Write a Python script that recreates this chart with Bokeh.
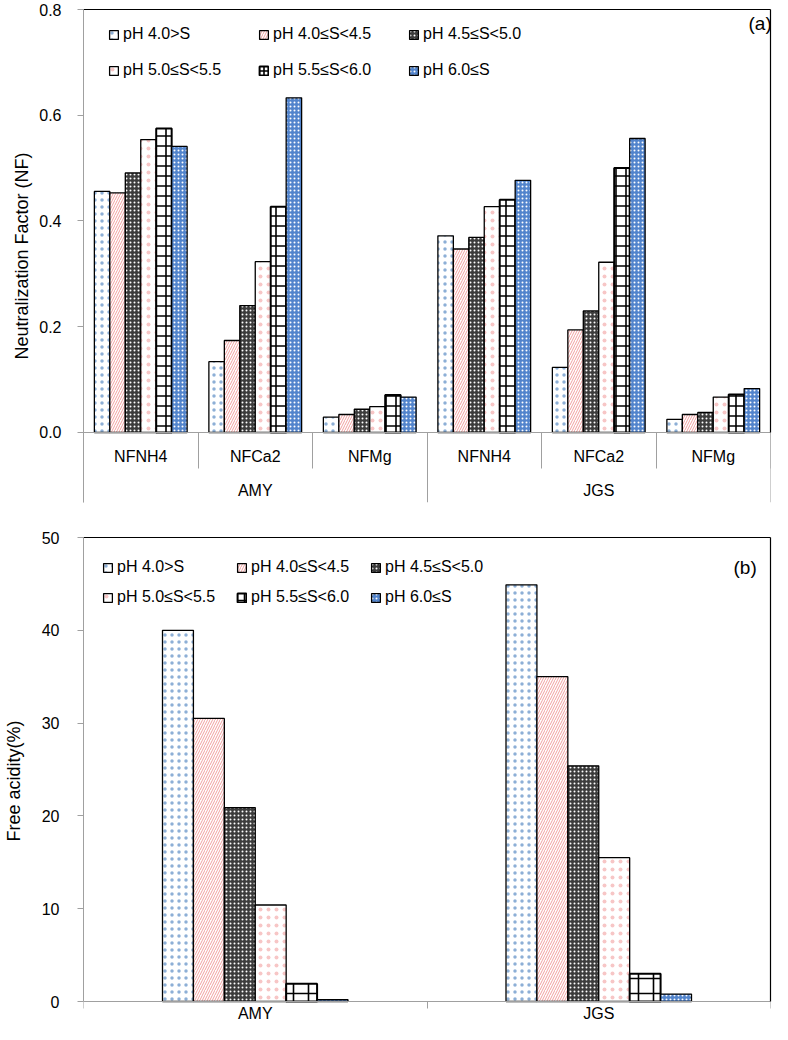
from bokeh.plotting import figure
from bokeh.models import (FactorRange, Range1d, CategoricalAxis, LinearAxis, FixedTicker,
                          CategoricalScale, Legend, LegendItem, Label,
                          NumeralTickFormatter, ColumnDataSource)
from bokeh.transform import dodge
from bokeh.layouts import column
from bokeh.embed import file_html
from bokeh.resources import INLINE

FONT = "Liberation Sans"
GRAY = "#a0a0a0"

# ---------------- data ----------------
sites = ["AMY", "JGS"]
ions = ["NFNH4", "NFCa2", "NFMg"]
classes = ["pH 4.0>S", "pH 4.0≤S<4.5", "pH 4.5≤S<5.0",
           "pH 5.0≤S<5.5", "pH 5.5≤S<6.0", "pH 6.0≤S"]

# Neutralization factor, order: AMY NFNH4, NFCa2, NFMg, JGS NFNH4, NFCa2, NFMg
nf_lt40 = [0.456, 0.134, 0.029, 0.372, 0.123, 0.025]
nf_40_45 = [0.453, 0.174, 0.034, 0.347, 0.194, 0.034]
nf_45_50 = [0.491, 0.240, 0.044, 0.369, 0.230, 0.038]
nf_50_55 = [0.554, 0.323, 0.049, 0.427, 0.322, 0.067]
nf_55_60 = [0.575, 0.427, 0.071, 0.440, 0.500, 0.072]
nf_ge60 = [0.541, 0.633, 0.067, 0.477, 0.556, 0.083]

# Free acidity (%), order: AMY, JGS
fa_lt40 = [40.0, 44.9]
fa_40_45 = [30.5, 35.0]
fa_45_50 = [20.9, 25.4]
fa_50_55 = [10.4, 15.5]
fa_55_60 = [1.9, 3.0]
fa_ge60 = [0.2, 0.8]

nf_yticks = [0.0, 0.2, 0.4, 0.6, 0.8]
fa_yticks = [0, 10, 20, 30, 40, 50]

nf_series = [nf_lt40, nf_40_45, nf_45_50, nf_50_55, nf_55_60, nf_ge60]
fa_series = [fa_lt40, fa_40_45, fa_45_50, fa_50_55, fa_55_60, fa_ge60]


def styles(grid):
    return [
        dict(fill_color="white", hatch_pattern="dot", hatch_color="#2f6db5",
             hatch_scale=7, hatch_alpha=0.55, line_width=1.3),
        dict(fill_color="white", hatch_pattern="right_diagonal_line", hatch_color="#f2a0a0",
             hatch_scale=5, hatch_weight=1, line_width=1.3),
        dict(fill_color="#3c3c3c", hatch_pattern="dot", hatch_color="white",
             hatch_scale=4, hatch_weight=1.2, line_width=1.3),
        dict(fill_color="white", hatch_pattern="dot", hatch_color="#ee8080",
             hatch_scale=8, hatch_alpha=0.45, line_width=1.3),
        dict(fill_color="white", hatch_pattern="cross", hatch_color="black",
             hatch_scale=grid, hatch_weight=1.6, line_width=2),
        dict(fill_color="#5284cc", hatch_pattern="dot", hatch_color="white",
             hatch_scale=4, hatch_weight=1.2, line_width=1.3),
    ]


def style_y(ax, ticks, fmt, standoff, title, title_standoff):
    ax.ticker = FixedTicker(ticks=ticks)
    if fmt:
        ax.formatter = NumeralTickFormatter(format=fmt)
    ax.axis_line_color = GRAY
    ax.major_tick_line_color = GRAY
    ax.major_tick_out = 6
    ax.major_tick_in = 0
    ax.minor_tick_line_color = None
    ax.major_label_standoff = standoff
    ax.major_label_text_font = FONT
    ax.major_label_text_font_size = "16px"
    ax.major_label_text_color = "black"
    ax.axis_label = title
    ax.axis_label_standoff = title_standoff
    ax.axis_label_text_font = FONT
    ax.axis_label_text_font_size = "18px"
    ax.axis_label_text_font_style = "normal"
    ax.axis_label_text_color = "black"


def tick_axis(ticks, length, line):
    # numeric (synthetic) positions on the categorical range: group boundaries
    return LinearAxis(ticker=FixedTicker(ticks=ticks),
                      fixed_location=0, major_tick_out=length, major_tick_in=0,
                      major_tick_line_color=GRAY, minor_tick_line_color=None,
                      axis_line_color=GRAY if line else None,
                      major_label_text_color=None)


def cat_axis(range_name, standoff):
    ax = CategoricalAxis(x_range_name=range_name, fixed_location=0,
                         axis_line_color=None, major_tick_line_color=None,
                         major_tick_out=0, major_tick_in=0, minor_tick_line_color=None,
                         separator_line_color=None,
                         major_label_standoff=standoff, major_label_text_font=FONT,
                         major_label_text_font_size="16px", major_label_text_color="black")
    return ax


def border_axes(p, ybounds):
    top = LinearAxis(ticker=FixedTicker(ticks=[]),
                     axis_line_color="black", axis_line_width=1.2,
                     major_tick_line_color=None, minor_tick_line_color=None,
                     major_label_text_color=None)
    p.add_layout(top, "above")
    right = LinearAxis(bounds=ybounds, ticker=FixedTicker(ticks=[]),
                       axis_line_color="black", axis_line_width=1.2,
                       major_tick_line_color=None, minor_tick_line_color=None,
                       major_label_text_color=None)
    p.add_layout(right, "right")


def make_legend(renderers, loc, lw, spacing):
    return Legend(items=[LegendItem(label=c, renderers=[r]) for c, r in zip(classes, renderers)],
                  location=loc, orientation="horizontal", ncols=3,
                  glyph_width=11, glyph_height=11, label_height=11, label_width=lw,
                  label_standoff=4, spacing=spacing, padding=0, margin=0,
                  border_line_color=None, background_fill_alpha=0,
                  label_text_font=FONT, label_text_font_size="16px", label_text_color="black")


# ---------------- panel (a) ----------------
factors = [(s, i) for s in sites for i in ions]
n_cls = len(classes)
bw_a = 0.135
src_a = ColumnDataSource(dict(x=factors, **{f"c{k}": v for k, v in enumerate(nf_series)}))

p1 = figure(x_range=FactorRange(*factors, group_padding=0, subgroup_padding=0,
                                factor_padding=0, range_padding=0),
            y_range=Range1d(-0.1324, 0.8), width=772, height=505,
            min_border_left=72, min_border_right=2, min_border_top=9, min_border_bottom=3,
            x_axis_location=None, output_backend="svg", toolbar_location=None)
p1.extra_x_ranges = {"sites": FactorRange(*sites, range_padding=0, factor_padding=0)}
p1.extra_x_scales = {"sites": CategoricalScale()}
p1.grid.visible = False
p1.outline_line_color = None
style_y(p1.yaxis[0], nf_yticks, "0.0", 16, "Neutralization Factor (NF)", 4)

rs = []
for k, st in enumerate(styles(10)):
    off = (k - (n_cls - 1) / 2) * bw_a
    r = p1.vbar(x=dodge("x", off, range=p1.x_range), top=f"c{k}", bottom=0, width=bw_a,
                source=src_a, line_color="black", **st)
    rs.append(r)

p1.add_layout(tick_axis(list(range(len(factors) + 1)), 36, True), "below")
p1.add_layout(tick_axis([i * len(ions) for i in range(len(sites) + 1)], 70, False), "below")
ion_ax = cat_axis("default", 16)
ion_ax.group_text_color = None
p1.add_layout(ion_ax, "below")
p1.add_layout(cat_axis("sites", 50), "below")
border_axes(p1, (0, 0.8))

p1.add_layout(make_legend(rs, (25, 423), 117, 18))
p1.add_layout(Label(x=665, y=0.7735, x_units="screen", y_units="data", text="(a)",
                    text_baseline="middle", text_align="left", text_font=FONT,
                    text_font_size="19px", text_color="black"))

# ---------------- panel (b) ----------------
bw_b = 0.09
src_b = ColumnDataSource(dict(x=sites, **{f"c{k}": v for k, v in enumerate(fa_series)}))
p2 = figure(x_range=FactorRange(*sites, range_padding=0, factor_padding=0),
            y_range=Range1d(-2.478, 50), width=772, height=519,
            min_border_left=79, min_border_right=2, min_border_top=32, min_border_bottom=0,
            x_axis_location=None, output_backend="svg", toolbar_location=None)
p2.grid.visible = False
p2.outline_line_color = None
style_y(p2.yaxis[0], fa_yticks, None, 18, "Free acidity(%)", 15)
p2.yaxis[0].bounds = (0, 50)

rs2 = []
for k, st in enumerate(styles(15)):
    off = (k - (n_cls - 1) / 2) * bw_b
    r = p2.vbar(x=dodge("x", off, range=p2.x_range), top=f"c{k}", bottom=0, width=bw_b,
                source=src_b, line_color="black", **st)
    rs2.append(r)

p2.add_layout(tick_axis(list(range(len(sites) + 1)), 7, True), "below")
p2.add_layout(cat_axis("default", 3), "below")
border_axes(p2, (0, 50))

p2.add_layout(make_legend(rs2, (19, 418), 107, 12))
p2.add_layout(Label(x=650, y=46.8, x_units="screen", y_units="data", text="(b)",
                    text_baseline="middle", text_align="left", text_font=FONT,
                    text_font_size="19px", text_color="black"))

layout = column(p1, p2, spacing=0)
open("out.html", "w").write(file_html(layout, INLINE))
